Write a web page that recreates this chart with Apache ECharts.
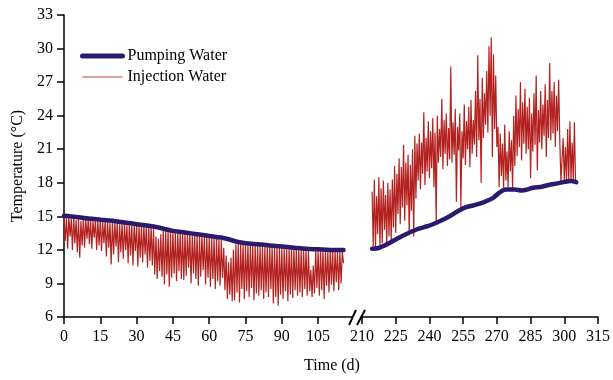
<!DOCTYPE html>
<html>

<head>
    <meta charset="UTF-8">
    <title>Pumping vs Injection Water Temperature</title>
    <script src="https://cdn.jsdelivr.net/npm/echarts/dist/echarts.min.js"></script>
</head>

<body style="margin:0">
    <div id="chart" style="width: 613px;height:380px;"></div>
    <script type="text/javascript">
        // Pumping water (smooth trend), first period and second period
        var pumpDaysA = [0, 5, 10, 15, 20, 25, 30, 35, 38, 42, 45, 50, 55, 60, 65, 68, 72, 75, 80, 85, 90, 95, 100, 105, 110, 115.5];
        var pumpTempA = [15.05, 14.95, 14.8, 14.7, 14.6, 14.45, 14.3, 14.15, 14.05, 13.85, 13.7, 13.55, 13.4, 13.25, 13.1, 12.95, 12.7, 12.6, 12.5, 12.4, 12.3, 12.2, 12.1, 12.05, 12.0, 12.0];
        var pumpDaysB = [214.5, 217, 219, 222, 226, 230, 234, 238, 241, 245, 249, 253, 256, 260, 264, 268, 271, 274, 278, 281, 286, 290, 293, 297, 300.5, 303, 305.3];
        var pumpTempB = [12.1, 12.15, 12.3, 12.6, 13.05, 13.45, 13.8, 14.05, 14.25, 14.6, 15.0, 15.5, 15.8, 16.0, 16.25, 16.6, 17.1, 17.4, 17.4, 17.3, 17.55, 17.65, 17.8, 17.95, 18.1, 18.15, 18.05];

        // Injection water, sampled every half day
        var injStep = 0.5;
        var injStartA = 0;
        var injTempA = [
            15.0, 12.8, 14.9, 12.1, 14.95, 13.2, 14.8, 12.0, 14.9, 12.6, 14.7, 11.8, 14.85, 11.3, 14.6, 12.4, 14.8, 12.2, 14.75, 13.0,
            14.7, 12.5, 14.8, 12.1, 14.6, 13.1, 14.7, 12.0, 14.65, 12.4, 14.7, 11.9, 14.5, 12.6, 14.65, 11.4, 14.6, 12.2, 14.4, 10.7,
            14.55, 11.6, 14.5, 12.3, 14.55, 10.9, 14.3, 11.8, 14.45, 11.2, 14.4, 12.0, 14.2, 10.8, 14.35, 11.5, 14.3, 10.6, 14.25, 11.9,
            14.25, 10.5, 14.2, 11.3, 14.1, 10.9, 14.2, 11.6, 14.1, 10.4, 14.05, 11.0, 14.1, 10.6, 13.9, 9.8, 13.2, 9.4, 13.0, 10.1,
            13.4, 9.6, 13.8, 8.9, 13.75, 9.8, 13.7, 8.7, 13.6, 9.5, 13.65, 9.9, 13.6, 9.2, 13.5, 10.1, 13.55, 9.4, 13.5, 9.3,
            13.45, 9.7, 13.4, 10.4, 13.45, 9.0, 13.3, 9.9, 13.35, 9.4, 13.3, 8.8, 13.25, 9.6, 13.3, 10.2, 13.2, 8.9, 13.2, 9.5,
            13.15, 8.7, 13.1, 9.4, 13.1, 8.5, 13.0, 9.2, 13.0, 8.8, 12.9, 9.5, 12.2, 8.4, 11.5, 7.6, 10.9, 8.0, 11.3, 7.4,
            12.0, 7.5, 12.5, 8.2, 12.6, 7.3, 12.55, 8.5, 12.5, 7.6, 12.5, 8.3, 12.45, 7.8, 12.5, 8.6, 12.4, 7.5, 12.45, 8.1,
            12.4, 7.9, 12.35, 8.4, 12.4, 7.6, 12.3, 8.2, 12.35, 7.8, 12.3, 8.5, 12.25, 7.2, 12.3, 7.8, 12.2, 7.0, 12.25, 8.0,
            12.2, 7.6, 12.15, 8.3, 12.2, 7.4, 12.1, 8.0, 12.15, 7.7, 12.1, 8.4, 12.05, 7.9, 12.1, 8.2, 12.0, 7.8, 12.05, 8.5,
            12.0, 7.9, 11.95, 8.3, 10.2, 7.8, 10.6, 8.1, 12.0, 8.6, 11.95, 7.9, 12.0, 8.4, 11.9, 7.6, 11.95, 8.8, 11.9, 8.2,
            11.95, 8.9, 11.9, 8.3, 11.95, 9.1, 11.9, 8.4, 11.9, 9.0, 11.85, 10.8
        ];
        var injStartB = 214.5;
        var injTempB = [
            17.2, 12.3, 18.3, 12.2, 16.8, 13.4, 18.5, 12.3, 17.5, 12.6, 18.2, 13.8, 16.9, 12.5, 18.0, 13.2, 17.4, 12.8, 18.3, 14.0,
            19.5, 13.5, 18.8, 15.2, 20.2, 14.3, 19.4, 15.8, 21.4, 14.6, 19.8, 16.0, 20.5, 13.3, 19.6, 15.5, 21.0, 13.2, 22.2, 16.6,
            21.5, 18.2, 22.4, 17.4, 21.6, 18.8, 24.3, 17.8, 22.0, 19.0, 23.5, 18.4, 22.6, 19.3, 23.8, 17.6, 22.5, 14.5, 24.0, 19.8,
            22.8, 20.3, 25.5, 19.2, 23.6, 20.6, 24.2, 19.5, 22.9, 20.1, 28.4, 19.8, 23.4, 20.5, 24.6, 16.3, 23.0, 20.9, 24.2, 15.8,
            22.6, 20.2, 25.0, 19.6, 23.5, 21.0, 24.8, 19.4, 25.4, 20.6, 23.6, 21.4, 26.2, 20.3, 29.4, 21.8, 25.5, 18.0, 27.4, 22.0,
            26.0, 23.2, 28.0, 22.5, 30.2, 24.0, 31.0, 20.3, 29.5, 22.8, 27.6, 21.2, 23.0, 17.6, 22.4, 18.6, 21.5, 17.5, 23.2, 18.2,
            20.8, 17.6, 22.6, 19.0, 21.8, 17.5, 24.0, 19.5, 25.8, 20.4, 24.6, 21.2, 27.0, 20.0, 25.2, 21.5, 26.4, 20.6, 24.8, 21.0,
            25.6, 18.4, 24.2, 20.8, 26.0, 21.4, 27.6, 19.1, 24.5, 21.6, 26.2, 21.0, 25.0, 22.2, 26.8, 20.3, 25.4, 22.0, 28.7, 21.8,
            26.2, 22.4, 27.0, 21.2, 25.8, 22.6, 27.2, 21.8, 18.1, 18.2, 22.0, 18.1, 21.2, 18.2, 22.8, 18.1, 23.5, 18.3, 21.6, 18.2,
            23.4, 18.1
        ];

        var leftTicks = [0, 15, 30, 45, 60, 75, 90, 105];

        function pairs(days, temps) {
            return temps.map(function (t, i) { return [days[i], t]; });
        }
        function sampled(start, temps) {
            return temps.map(function (t, i) { return [start + i * injStep, t]; });
        }

        var font = 'Liberation Serif';
        var pumpColor = '#2c1a6e';
        var injColor = '#b3221f';

        var myChart = echarts.init(document.getElementById('chart'));

        var axisCommon = {
            type: 'value',
            axisLine: { show: true, onZero: false, lineStyle: { color: '#000', width: 1.5 } },
            axisTick: { show: true, length: 7, lineStyle: { color: '#000', width: 1.5 } },
            splitLine: { show: false },
            axisLabel: { color: '#000', fontSize: 16, fontFamily: font, margin: 12 }
        };

        var option = {
            animation: false,
            textStyle: { fontFamily: font },
            grid: [
                { left: 64, top: 15, width: 288, height: 302 },
                { left: 362, top: 15, width: 237, height: 302 }
            ],
            legend: {
                orient: 'vertical',
                left: 80,
                top: 48,
                padding: 0,
                itemWidth: 40,
                itemHeight: 14,
                itemGap: 5,
                itemStyle: { opacity: 0 },
                textStyle: { fontSize: 16, fontFamily: font, color: '#000' },
                data: [
                    { name: 'Pumping Water', lineStyle: { color: pumpColor, width: 5 } },
                    { name: 'Injection Water', lineStyle: { color: '#d47f78', width: 1.5 } }
                ]
            },
            xAxis: [
                Object.assign({}, axisCommon, {
                    gridIndex: 0, min: 0, max: 119,
                    axisTick: Object.assign({}, axisCommon.axisTick, { customValues: leftTicks }),
                    axisLabel: Object.assign({}, axisCommon.axisLabel, { customValues: leftTicks })
                }),
                Object.assign({}, axisCommon, {
                    gridIndex: 1, min: 210, max: 315, interval: 15
                })
            ],
            yAxis: [
                Object.assign({}, axisCommon, {
                    gridIndex: 0, min: 6, max: 33, interval: 3,
                    axisLabel: Object.assign({}, axisCommon.axisLabel, { margin: 11 }),
                    name: 'Temperature (°C)',
                    nameLocation: 'middle',
                    nameGap: 38,
                    nameTextStyle: { fontSize: 16, fontFamily: font, color: '#000' }
                }),
                { type: 'value', gridIndex: 1, min: 6, max: 33, show: false }
            ],
            graphic: [
                { type: 'line', shape: { x1: 349, y1: 325, x2: 356, y2: 310 }, style: { stroke: '#000', lineWidth: 2 } },
                { type: 'line', shape: { x1: 357, y1: 325, x2: 365, y2: 310 }, style: { stroke: '#000', lineWidth: 2 } },
                {
                    type: 'text', x: 332, y: 366,
                    style: { text: 'Time (d)', font: '16px "Liberation Serif"', fill: '#000', align: 'center', verticalAlign: 'middle' }
                }
            ],
            series: [
                {
                    name: 'Pumping Water', type: 'line', xAxisIndex: 0, yAxisIndex: 0, z: 5,
                    data: pairs(pumpDaysA, pumpTempA), smooth: 0.3, symbol: 'none',
                    lineStyle: { color: pumpColor, width: 4.5, cap: 'round' }, itemStyle: { color: pumpColor }
                },
                {
                    name: 'Pumping Water', type: 'line', xAxisIndex: 1, yAxisIndex: 1, z: 5,
                    data: pairs(pumpDaysB, pumpTempB), smooth: 0.3, symbol: 'none',
                    lineStyle: { color: pumpColor, width: 4.5, cap: 'round' }, itemStyle: { color: pumpColor }
                },
                {
                    name: 'Injection Water', type: 'line', xAxisIndex: 0, yAxisIndex: 0, z: 3,
                    data: sampled(injStartA, injTempA), symbol: 'none',
                    lineStyle: { color: injColor, width: 1.2 }, itemStyle: { color: injColor }
                },
                {
                    name: 'Injection Water', type: 'line', xAxisIndex: 1, yAxisIndex: 1, z: 3,
                    data: sampled(injStartB, injTempB), symbol: 'none',
                    lineStyle: { color: injColor, width: 1.2 }, itemStyle: { color: injColor }
                }
            ]
        };

        myChart.setOption(option);
    </script>
</body>

</html>
